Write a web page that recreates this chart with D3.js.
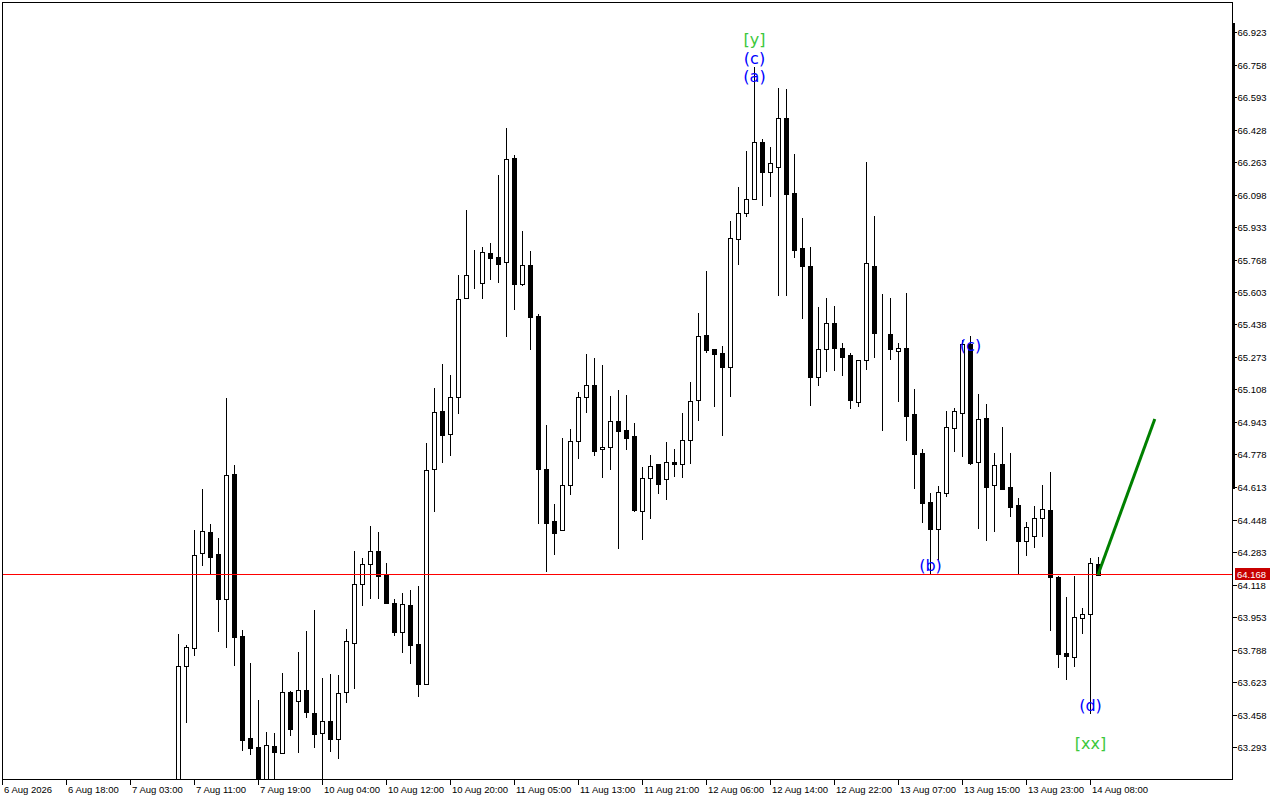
<!DOCTYPE html>
<html><head><meta charset="utf-8">
<script src="https://cdn.jsdelivr.net/npm/d3@7"></script>
<style>html,body{margin:0;padding:0;background:#fff;}svg{display:block;}</style>
</head><body>
<script>
// ---- data (hourly bars, index = bar number from left edge) ----
const firstBar = 22;
const opens  = [63.024,63.704,63.796,64.278,64.385,64.273,64.044,64.679,63.856,63.339,63.293,63.10,63.298,63.262,63.572,63.527,63.582,63.466,63.364,63.425,63.334,63.572,63.821,64.121,64.222,64.288,64.171,64.024,63.877,64.014,63.816,63.613,64.704,64.999,64.882,65.070,65.573,65.694,65.649,65.801,65.781,65.755,66.283,65.644,65.740,65.481,64.704,64.440,64.395,64.623,64.847,65.070,65.131,64.806,64.816,64.948,64.902,64.872,64.491,64.659,64.730,64.654,64.740,64.730,64.852,65.055,65.385,65.314,65.293,65.222,65.872,66.004,66.075,66.365,66.212,66.238,66.486,66.106,65.826,65.735,65.171,65.314,65.446,65.319,65.283,65.045,65.258,65.735,65.395,65.390,65.303,65.319,64.984,64.786,64.537,64.400,64.582,64.913,64.989,65.339,64.740,64.963,64.623,64.730,64.613,64.522,64.339,64.364,64.456,64.496,64.156,63.770,63.750,63.948,63.968,64.222];
const highs  = [63.867,63.81,64.395,64.603,64.425,64.354,65.065,64.725,63.887,63.719,63.532,63.369,63.364,63.669,63.577,63.775,63.882,63.989,63.643,63.664,63.658,63.892,64.288,64.253,64.415,64.385,64.227,64.044,64.075,64.090,64.110,64.836,65.116,65.237,65.182,65.689,66.019,65.816,65.831,65.852,66.197,66.436,66.299,65.913,65.811,65.491,64.928,64.527,64.862,64.907,65.095,65.288,65.268,65.232,65.075,65.105,65.080,64.938,64.714,64.775,64.730,64.841,64.806,64.989,65.146,65.496,65.710,65.314,65.329,65.963,66.136,66.319,66.745,66.380,66.339,66.639,66.634,66.304,65.979,65.831,65.527,65.573,65.532,65.344,65.293,65.26,66.263,65.989,65.593,65.573,65.344,65.598,65.110,64.806,64.582,64.618,64.999,65.014,65.359,65.380,65.085,65.034,64.786,64.918,64.786,64.557,64.435,64.516,64.623,64.689,64.160,64.054,64.161,63.999,64.253,64.258];
const lows   = [62.92,63.415,63.755,64.212,64.171,63.877,63.796,63.704,63.273,63.252,63.024,63.05,63.10,63.255,63.349,63.262,63.440,63.288,63.10,63.268,63.232,63.516,63.587,64.009,64.044,64.044,64.020,63.856,63.770,63.714,63.547,63.608,64.486,64.735,64.770,64.984,65.568,65.618,65.567,65.664,65.649,65.375,65.512,65.633,65.309,64.425,64.181,64.268,64.390,64.572,64.755,64.989,64.770,64.659,64.699,64.298,64.801,64.486,64.344,64.451,64.577,64.547,64.664,64.659,64.730,64.948,65.293,65.019,64.872,65.070,65.740,65.984,66.070,66.040,66.085,65.583,65.583,65.776,65.466,65.024,65.126,65.197,65.202,65.176,65.009,65.019,65.207,65.268,64.897,65.258,65.045,64.847,64.603,64.430,64.171,64.242,64.562,64.791,64.765,64.725,64.400,64.339,64.385,64.600,64.461,64.171,64.263,64.303,64.359,63.882,63.694,63.633,63.699,63.867,63.461,64.168];
const closes = [63.704,63.801,64.268,64.390,64.258,64.044,64.674,63.851,63.329,63.288,63.075,63.303,63.268,63.572,63.384,63.582,63.471,63.359,63.425,63.334,63.567,63.831,64.121,64.222,64.288,64.161,64.024,63.877,64.019,63.811,63.613,64.699,64.994,64.877,65.070,65.567,65.689,65.694,65.806,65.776,65.745,66.278,65.644,65.740,65.476,64.704,64.430,64.379,64.623,64.847,65.070,65.131,64.796,64.816,64.948,64.897,64.862,64.496,64.659,64.720,64.628,64.740,64.730,64.852,65.050,65.380,65.309,65.288,65.222,65.877,66.004,66.075,66.365,66.212,66.258,66.486,66.101,65.816,65.735,65.171,65.314,65.446,65.319,65.273,65.055,65.258,65.750,65.395,65.395,65.314,65.319,64.974,64.781,64.532,64.400,64.588,64.918,64.999,65.339,64.735,64.958,64.613,64.725,64.603,64.511,64.339,64.410,64.456,64.501,64.156,63.765,63.755,63.953,63.968,64.227,64.168];

const timeTickBars   = [0,8,16,24,32,40,48,56,64,72,80,88,96,104,112,120,128,136];
const timeTickLabels = ["6 Aug 2026","6 Aug 18:00","7 Aug 03:00","7 Aug 11:00","7 Aug 19:00","10 Aug 04:00","10 Aug 12:00","10 Aug 20:00","11 Aug 05:00","11 Aug 13:00","11 Aug 21:00","12 Aug 06:00","12 Aug 14:00","12 Aug 22:00","13 Aug 07:00","13 Aug 15:00","13 Aug 23:00","14 Aug 08:00"];
const priceTicks = [66.923,66.758,66.593,66.428,66.263,66.098,65.933,65.768,65.603,65.438,65.273,65.108,64.943,64.778,64.613,64.448,64.283,64.118,63.953,63.788,63.623,63.458,63.293];
const lastPrice = 64.168;

const waveTexts  = ["[y]","(c)","(a)","(b)","(c)","(d)","[xx]"];
const waveBars   = [94,94,94,116,121,136,136];
const wavePrices = [66.887,66.791,66.695,64.217,65.329,63.506,63.313];
const waveKinds  = ["green","blue","blue","blue","blue","blue","green"];

const arrowBars   = [137,144.1];
const arrowPrices = [64.168,64.958];

// ---- drawing ----
const W = 1280, H = 800;
const L = 2, T = 2, R = 1232, B = 779;
const AXF = 9.5;
const svg = d3.select("body").append("svg").attr("width", W).attr("height", H)
  .style("font-family", "'Liberation Sans', Arial, sans-serif");

const x = d3.scaleLinear().domain([0, 1]).range([2, 10]);           // 8 px per bar
const y = d3.scaleLinear().domain([63.293, 66.923]).range([747, 32]);

svg.append("defs").append("clipPath").attr("id","clip")
  .append("rect").attr("x", L).attr("y", T).attr("width", R - L).attr("height", B - T);

const plot = svg.append("g").attr("clip-path","url(#clip)");

const bars = opens.map((o, i) => ({i: firstBar + i, o, h: highs[i], l: lows[i], c: closes[i]}));
const px = d => Math.round(x(d.i)) + 0.5;

const g = plot.append("g");
g.selectAll("line.wick").data(bars).join("line")
  .attr("x1", px).attr("x2", px)
  .attr("y1", d => y(d.h)).attr("y2", d => y(d.l))
  .attr("stroke", "#000").attr("stroke-width", 1).attr("shape-rendering","crispEdges");
g.selectAll("rect.body").data(bars).join("rect")
  .attr("x", d => px(d) - 2).attr("width", 4)
  .attr("y", d => Math.round(y(Math.max(d.o, d.c))) + 0.5)
  .attr("height", d => Math.max(0, Math.round(y(Math.min(d.o, d.c))) - Math.round(y(Math.max(d.o, d.c)))))
  .attr("fill", d => d.c >= d.o ? "#fff" : "#000")
  .attr("stroke", "#000").attr("stroke-width", 1).attr("shape-rendering","crispEdges");

// last price line
const ly = Math.floor(y(lastPrice));
plot.append("rect").attr("x", L).attr("y", ly).attr("width", R - L).attr("height", 1)
  .attr("fill", "#ff0000").attr("shape-rendering","crispEdges");

// green arrow line
plot.append("line")
  .attr("x1", x(arrowBars[0])).attr("y1", y(arrowPrices[0]))
  .attr("x2", x(arrowBars[1])).attr("y2", y(arrowPrices[1]))
  .attr("stroke", "#008000").attr("stroke-width", 3);

// wave labels
svg.append("g").selectAll("text").data(waveTexts).join("text")
  .attr("x", (d, i) => x(waveBars[i]) + 0.5)
  .attr("y", (d, i) => y(wavePrices[i]))
  .attr("text-anchor", "middle").attr("dominant-baseline", "central")
  .attr("font-family", "'DejaVu Sans', sans-serif").attr("font-size", 16)
  .attr("fill", (d, i) => waveKinds[i] === "green" ? "#3cc83c" : "#0000ff")
  .text(d => d);

// frame
svg.append("rect").attr("x", L + 0.5).attr("y", T + 0.5).attr("width", R - L).attr("height", B - T)
  .attr("fill", "none").attr("stroke", "#000").attr("stroke-width", 1).attr("shape-rendering","crispEdges");
// thick segment on price scale
svg.append("line").attr("x1", R + 1.5).attr("x2", R + 1.5).attr("y1", 23).attr("y2", 489)
  .attr("stroke", "#000").attr("stroke-width", 3).attr("shape-rendering","crispEdges");

// price axis
const yAxis = d3.axisRight(y).tickValues(priceTicks).tickSize(4).tickPadding(1).tickFormat(d3.format(".3f"));
const ya = svg.append("g").attr("transform", `translate(${R + 0.5},0)`).call(yAxis);
ya.select(".domain").remove();
ya.selectAll(".tick line").attr("stroke", "#000").attr("shape-rendering","crispEdges");
ya.selectAll(".tick").attr("transform", d => `translate(0,${Math.round(y(d)) + 0.5})`);
ya.selectAll("text").attr("font-family", "'Liberation Sans', Arial, sans-serif").attr("font-size", AXF).attr("fill", "#000");

// last price tag
svg.append("rect").attr("x", R + 3).attr("y", ly - 6).attr("width", 35).attr("height", 12).attr("fill", "#c80000");
svg.append("text").attr("x", R + 5).attr("y", ly + 4).attr("font-size", AXF).attr("fill", "#fff").text(lastPrice.toFixed(3));

// time axis
const xa = svg.append("g").attr("transform", `translate(0,${B + 0.5})`);
xa.selectAll("line").data(timeTickBars).join("line")
  .attr("x1", d => Math.round(x(d)) + 0.5).attr("x2", d => Math.round(x(d)) + 0.5)
  .attr("y1", 0).attr("y2", 5).attr("stroke", "#000").attr("shape-rendering","crispEdges");
xa.selectAll("text").data(timeTickBars).join("text")
  .attr("x", d => Math.round(x(d)) + 2).attr("y", 13)
  .attr("font-size", AXF).attr("fill", "#000")
  .text((d, i) => timeTickLabels[i]);
</script>
</body></html>
